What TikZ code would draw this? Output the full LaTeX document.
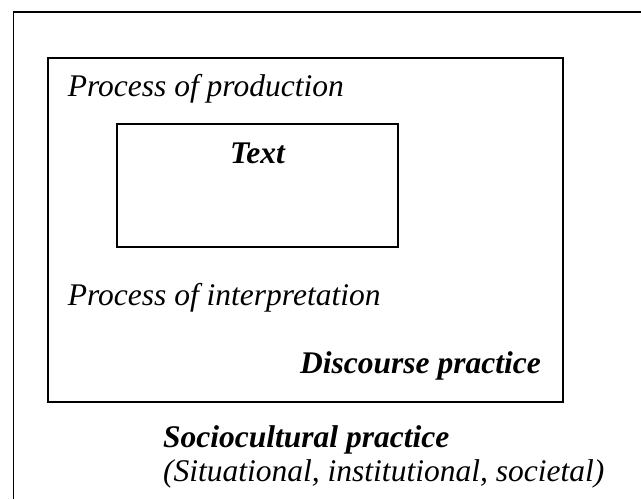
\documentclass[tikz,border=0pt]{standalone}
\usepackage{fontspec}
\setmainfont{Liberation Serif}
\begin{document}
\begin{tikzpicture}[x=1pt,y=-1pt,
  frame/.style={draw, line width=1.8pt, inner sep=0pt, rectangle},
  lbl/.style={font=\fontsize{31.5}{36}\selectfont\itshape, inner sep=0pt, anchor=base west},
  blbl/.style={font=\fontsize{31.5}{36}\selectfont\bfseries\itshape, inner sep=0pt, anchor=base west}]
\useasboundingbox (0,0) rectangle (641,499);
% outer (sociocultural) frame, cropped at right and bottom
\coordinate (otr) at (641,11.7);
\coordinate (otl) at (13.5,11.7);
\coordinate (obl) at (13.5,499);
\draw[line width=1.8pt] (otr) -- (otl) -- (obl);
% discourse practice box
\node[frame, minimum width=515pt, minimum height=343.4pt] (mid) at (305.2,230) {};
% text box
\node[frame, minimum width=281.6pt, minimum height=123.3pt] (inner) at (257.5,185.7) {};
% labels
\node[lbl] (prod) at (67.7,96.7) {Process of production};
\node[blbl, anchor=base] (txt) at (257.5,163) {Text};
\node[lbl] (interp) at (67.7,305) {Process of interpretation};
\node[blbl] (disc) at (300,373) {Discourse practice};
\node[blbl] (socio) at (163,447) {Sociocultural practice};
\node[lbl] (sit) at (163,481) {(Situational, institutional, societal)};
\end{tikzpicture}
\end{document}
